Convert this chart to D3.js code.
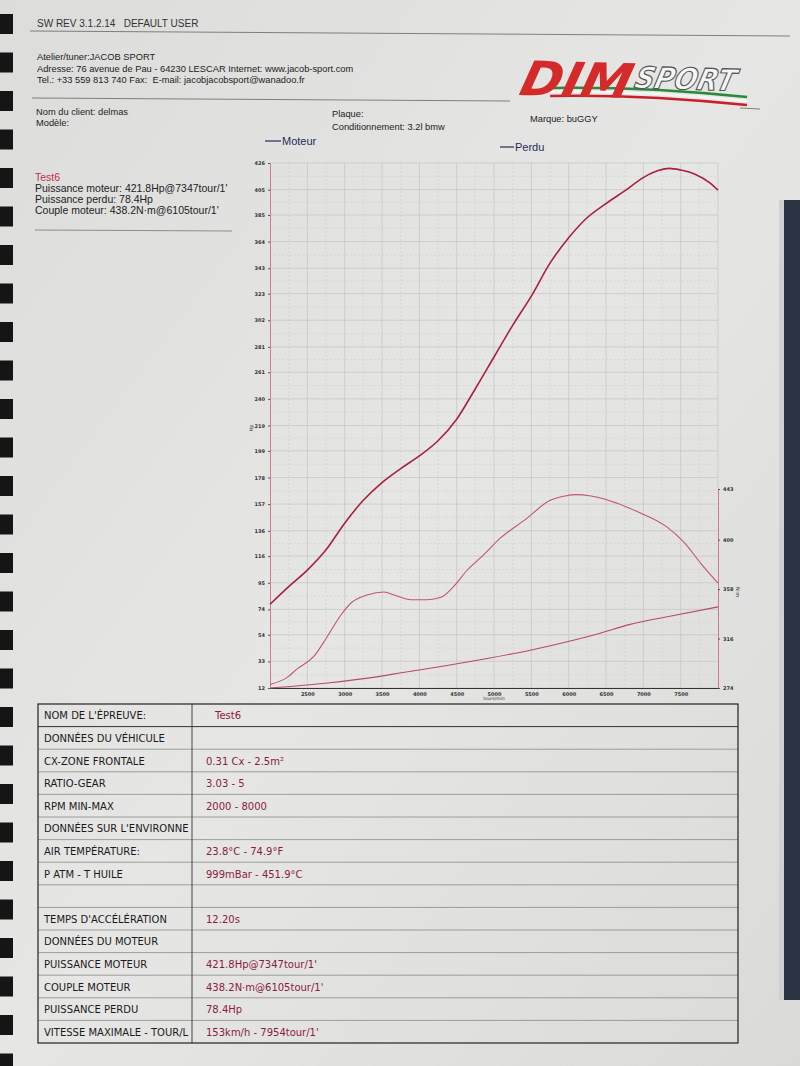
<!DOCTYPE html>
<html><head><meta charset="utf-8">
<script src="https://cdn.jsdelivr.net/npm/d3@7"></script>
<style>html,body{margin:0;padding:0;background:#e2e2e0;}svg{display:block;}</style>
</head><body>
<script>
// ---------- DATA ----------
const rpmTicks = [2500,3000,3500,4000,4500,5000,5500,6000,6500,7000,7500];
const hpTicks = [12,33,54,74,95,116,136,157,178,199,219,240,261,281,302,323,343,364,385,405,426];
const nmTicks = [274,316,358,400,443];

const powerRpm = [2000,2250,2500,2750,3000,3250,3500,3750,4000,4250,4500,4750,5000,5250,5500,5750,6000,6250,6500,6750,7000,7200,7347,7500,7700,7900,8000];
const powerHp  = [78,92,105,121,142,160,174,185,195,207,224,248,273,298,321,347,367,383,394,404,414.5,420,421.8,420.5,417,410,404.6];

const torqueRpm = [2000,2230,2360,2590,2770,2950,3100,3300,3530,3660,3890,4110,4290,4470,4640,4860,5080,5440,5740,5950,6105,6300,6550,6910,7310,7540,7780,8000];
const torqueNm  = [277,283,290,301,318,336,347,353,355.5,353,349,349,351,361,374,387,401,418,433,437,438.2,437,433,424,411,398,379,363];

const perduRpm = [2000,2770,3450,3760,4390,4930,5470,6090,6410,6810,7390,8000];
const perduHp  = [12,16,21,24,30,35.5,41.6,50,55,62,69,76];

const headerLines = ["Atelier/tuner:JACOB SPORT","Adresse: 76 avenue de Pau - 64230 LESCAR Internet: www.jacob-sport.com","Tel.: +33 559 813 740 Fax:  E-mail: jacobjacobsport@wanadoo.fr"];
const infoLines = ["Puissance moteur: 421.8Hp@7347tour/1'","Puissance perdu: 78.4Hp","Couple moteur: 438.2N·m@6105tour/1'"];
const tableLabels = ["NOM DE L'ÉPREUVE:","DONNÉES DU VÉHICULE","CX-ZONE FRONTALE","RATIO-GEAR","RPM MIN-MAX","DONNÉES SUR L'ENVIRONNE","AIR TEMPÉRATURE:","P ATM - T HUILE","","TEMPS D'ACCÉLÉRATION","DONNÉES DU MOTEUR","PUISSANCE MOTEUR","COUPLE MOTEUR","PUISSANCE PERDU","VITESSE MAXIMALE - TOUR/L"];
const tableValues = ["Test6","","0.31 Cx - 2.5m²","3.03 - 5","2000 - 8000","","23.8°C - 74.9°F","999mBar - 451.9°C","","12.20s","","421.8Hp@7347tour/1'","438.2N·m@6105tour/1'","78.4Hp","153km/h - 7954tour/1'"];

// ---------- PAGE ----------
const W = 800, H = 1066;
const svg = d3.select("body").append("svg").attr("width", W).attr("height", H);
const defs = svg.append("defs");
const g1 = defs.append("linearGradient").attr("id","paper").attr("x1","0").attr("y1","0").attr("x2","1").attr("y2","1");
g1.append("stop").attr("offset","0").attr("stop-color","#dcdcda");
g1.append("stop").attr("offset","0.5").attr("stop-color","#e6e6e4");
g1.append("stop").attr("offset","1").attr("stop-color","#dadad8");
svg.append("rect").attr("width",W).attr("height",H).attr("fill","url(#paper)");

// binder on right and rings on left (decoration)
svg.append("rect").attr("x",784).attr("y",200).attr("width",16).attr("height",800).attr("fill","#2b3444");
svg.append("rect").attr("x",779).attr("y",200).attr("width",5).attr("height",800).attr("fill","#cfd0d2");
svg.append("g").selectAll("rect").data(d3.range(0, 1066, 38.5)).join("rect")
  .attr("x",0).attr("y",d=>d+14).attr("width",13).attr("height",20).attr("fill","#151515");

const sans = "Liberation Sans, Arial, sans-serif";
const txt = (x,y,s,size,fill,opts={}) => svg.append("text").attr("x",x).attr("y",y).text(s)
  .attr("font-family",opts.family||sans).attr("font-size",size).attr("fill",fill)
  .attr("text-anchor",opts.anchor||"start").attr("font-weight",opts.weight||"normal")
  .style("white-space","pre");

// header
txt(37,27,"SW REV 3.1.2.14   DEFAULT USER",10,"#333");
svg.append("line").attr("x1",30).attr("y1",31).attr("x2",790).attr("y2",36).attr("stroke","#666").attr("stroke-width",0.8);
headerLines.forEach((s,i)=>txt(37,60+i*11.5,s,9.3,"#222"));
svg.append("line").attr("x1",32).attr("y1",98).attr("x2",510).attr("y2",101).attr("stroke","#666").attr("stroke-width",0.8);
svg.append("line").attr("x1",740).attr("y1",108).attr("x2",760).attr("y2",109).attr("stroke","#666").attr("stroke-width",0.8);
txt(36,115,"Nom du client: delmas",9.3,"#222");
txt(36,126,"Modèle:",9.3,"#222");
txt(332,117,"Plaque:",9.3,"#222");
txt(332,130,"Conditionnement: 3.2l bmw",9.3,"#222");
txt(530,122,"Marque: buGGY",9.3,"#222");

// logo
const logo = svg.append("g").attr("transform","translate(515,98) rotate(1.5)");
[["#2a8a3a",-5],["#f4f4f4",-1],["#c8202a",3]].forEach(([c,dy])=>{
  logo.append("path").attr("d",`M35,${dy-6} Q130,${dy-10} 232,${dy-2}`).attr("fill","none").attr("stroke",c).attr("stroke-width",2.5);
});
logo.append("text").attr("x",2).attr("y",-3).text("DIM").attr("font-family","DejaVu Sans, sans-serif")
  .attr("font-weight","bold").attr("font-style","italic").attr("font-size",48).attr("fill","#d42a2a")
  .attr("transform","skewX(-12) scale(1.05,1)");
logo.append("text").attr("x",128).attr("y",-13).text("SPORT").attr("font-family","DejaVu Sans, sans-serif")
  .attr("font-weight","bold").attr("font-style","italic").attr("font-size",30).attr("fill","#f6f6f6")
  .attr("stroke","#555").attr("stroke-width",1.2).attr("transform","skewX(-12) scale(0.9,1)");

// info block
txt(35,181,"Test6",10.5,"#c0304a");
infoLines.forEach((s,i)=>txt(35,192+i*11,s,10.5,"#222"));
svg.append("line").attr("x1",35).attr("y1",230).attr("x2",232).attr("y2",231).attr("stroke","#777").attr("stroke-width",0.8);

// ---------- CHART ----------
const L = 270, R = 718, T = 163, B = 688;
const x = d3.scaleLinear().domain([2000,8000]).range([L,R]);
const yL = d3.scaleLinear().domain([12,426]).range([B,T]);
const yR = d3.scaleLinear().domain([274,443]).range([B,489]);

// legend
const leg = svg.append("g");
leg.append("line").attr("x1",265).attr("y1",141).attr("x2",281).attr("y2",141).attr("stroke","#1e2c5a").attr("stroke-width",1.2);
txt(282,145,"Moteur",11,"#1e2c5a");
leg.append("line").attr("x1",500).attr("y1",147).attr("x2",514).attr("y2",147).attr("stroke","#1e2c5a").attr("stroke-width",1.2);
txt(515,151,"Perdu",11,"#1e2c5a");

// grid
const grid = svg.append("g");
const minorX = d3.range(2250, 8000, 500);
const minorY = hpTicks.slice(0,-1).map((d,i)=>(d+hpTicks[i+1])/2);
grid.selectAll(".mx").data(minorX).join("line").attr("x1",d=>x(d)).attr("x2",d=>x(d)).attr("y1",T).attr("y2",B)
  .attr("stroke","#cfcfcf").attr("stroke-width",0.6).attr("stroke-dasharray","2,2");
grid.selectAll(".my").data(minorY).join("line").attr("y1",d=>yL(d)).attr("y2",d=>yL(d)).attr("x1",L).attr("x2",R)
  .attr("stroke","#cfcfcf").attr("stroke-width",0.6).attr("stroke-dasharray","2,2");
grid.selectAll(".gx").data(rpmTicks).join("line").attr("x1",d=>x(d)).attr("x2",d=>x(d)).attr("y1",T).attr("y2",B)
  .attr("stroke","#c4c4c4").attr("stroke-width",0.7);
grid.selectAll(".gy").data(hpTicks).join("line").attr("y1",d=>yL(d)).attr("y2",d=>yL(d)).attr("x1",L).attr("x2",R)
  .attr("stroke","#c4c4c4").attr("stroke-width",0.7);
grid.append("line").attr("x1",R).attr("x2",R).attr("y1",T).attr("y2",489).attr("stroke","#c4c4c4").attr("stroke-width",0.7);

// axes
const fs = 5;
const axL = svg.append("g").attr("transform",`translate(${L},0)`)
  .call(d3.axisLeft(yL).tickValues(hpTicks).tickFormat(d3.format("d")).tickSize(2));
axL.select(".domain").attr("stroke","#d07a8a");
axL.selectAll(".tick line").attr("stroke","#555");
axL.selectAll("text").attr("font-size",fs).attr("font-family","DejaVu Sans, sans-serif").attr("fill","#333").attr("font-weight","bold");

const axB = svg.append("g").attr("transform",`translate(0,${B})`)
  .call(d3.axisBottom(x).tickValues(rpmTicks).tickFormat(d3.format("d")).tickSize(0).tickPadding(4));
axB.select(".domain").attr("stroke","#333").attr("stroke-width",1.2);
axB.selectAll("text").attr("font-size",fs).attr("font-family","DejaVu Sans, sans-serif").attr("fill","#333").attr("font-weight","bold");

const axR = svg.append("g").attr("transform",`translate(${R},0)`)
  .call(d3.axisRight(yR).tickValues(nmTicks).tickFormat(d3.format("d")).tickSize(2));
axR.select(".domain").attr("stroke","#d07a8a");
axR.selectAll(".tick line").attr("stroke","#555");
axR.selectAll("text").attr("font-size",fs).attr("font-family","DejaVu Sans, sans-serif").attr("fill","#333").attr("font-weight","bold");

svg.append("text").attr("transform",`translate(253,428) rotate(-90)`).attr("text-anchor","middle")
  .text("Hp").attr("font-size",5).attr("font-family","DejaVu Sans, sans-serif").attr("fill","#333");
svg.append("text").attr("transform",`translate(736,592) rotate(90)`).attr("text-anchor","middle")
  .text("N·m").attr("font-size",5).attr("font-family","DejaVu Sans, sans-serif").attr("fill","#333");
svg.append("text").attr("x",x(5000)).attr("y",B+12).attr("text-anchor","middle")
  .text("tours/min").attr("font-size",4.5).attr("font-family","DejaVu Sans, sans-serif").attr("fill","#333");

// curves
const line = (xs, ys, ysc) => d3.line().curve(d3.curveMonotoneX)
  .x((d,i)=>x(xs[i])).y((d,i)=>ysc(ys[i]))(xs);
svg.append("path").attr("d",line(torqueRpm,torqueNm,yR)).attr("fill","none").attr("stroke","#c2566c").attr("stroke-width",1.1);
svg.append("path").attr("d",line(perduRpm,perduHp,yL)).attr("fill","none").attr("stroke","#b84a62").attr("stroke-width",1.1);
svg.append("path").attr("d",line(powerRpm,powerHp,yL)).attr("fill","none").attr("stroke","#a8223c").attr("stroke-width",1.6);

// ---------- TABLE ----------
const tL = 38, tR = 738, tT = 704, rowH = 22.6, tC = 192;
const tbl = svg.append("g");
const rows = tableLabels.map((l,i)=>({label:l, value:tableValues[i], i}));
tbl.selectAll(".rl").data(d3.range(1, rows.length)).join("line")
  .attr("x1",tL).attr("x2",tR).attr("y1",d=>tT+d*rowH).attr("y2",d=>tT+d*rowH)
  .attr("stroke",d=>d===1?"#333":"#8a8a8a").attr("stroke-width",d=>d===1?1:0.8);
tbl.append("rect").attr("x",tL).attr("y",tT).attr("width",tR-tL).attr("height",rows.length*rowH)
  .attr("fill","none").attr("stroke","#222").attr("stroke-width",1.2);
tbl.append("line").attr("x1",tC).attr("x2",tC).attr("y1",tT).attr("y2",tT+rows.length*rowH).attr("stroke","#333").attr("stroke-width",0.9);
tbl.selectAll(".lt").data(rows).join("text").attr("x",44).attr("y",d=>tT+d.i*rowH+rowH/2+4)
  .text(d=>d.label).attr("font-family","DejaVu Sans, sans-serif").attr("font-size",10).attr("fill","#1a1a1a");
tbl.selectAll(".vt").data(rows).join("text").attr("x",d=>d.i===0?215:206).attr("y",d=>tT+d.i*rowH+rowH/2+4)
  .text(d=>d.value).attr("font-family","DejaVu Sans, sans-serif").attr("font-size",10).attr("fill","#8a1c3c");
</script>
</body></html>
